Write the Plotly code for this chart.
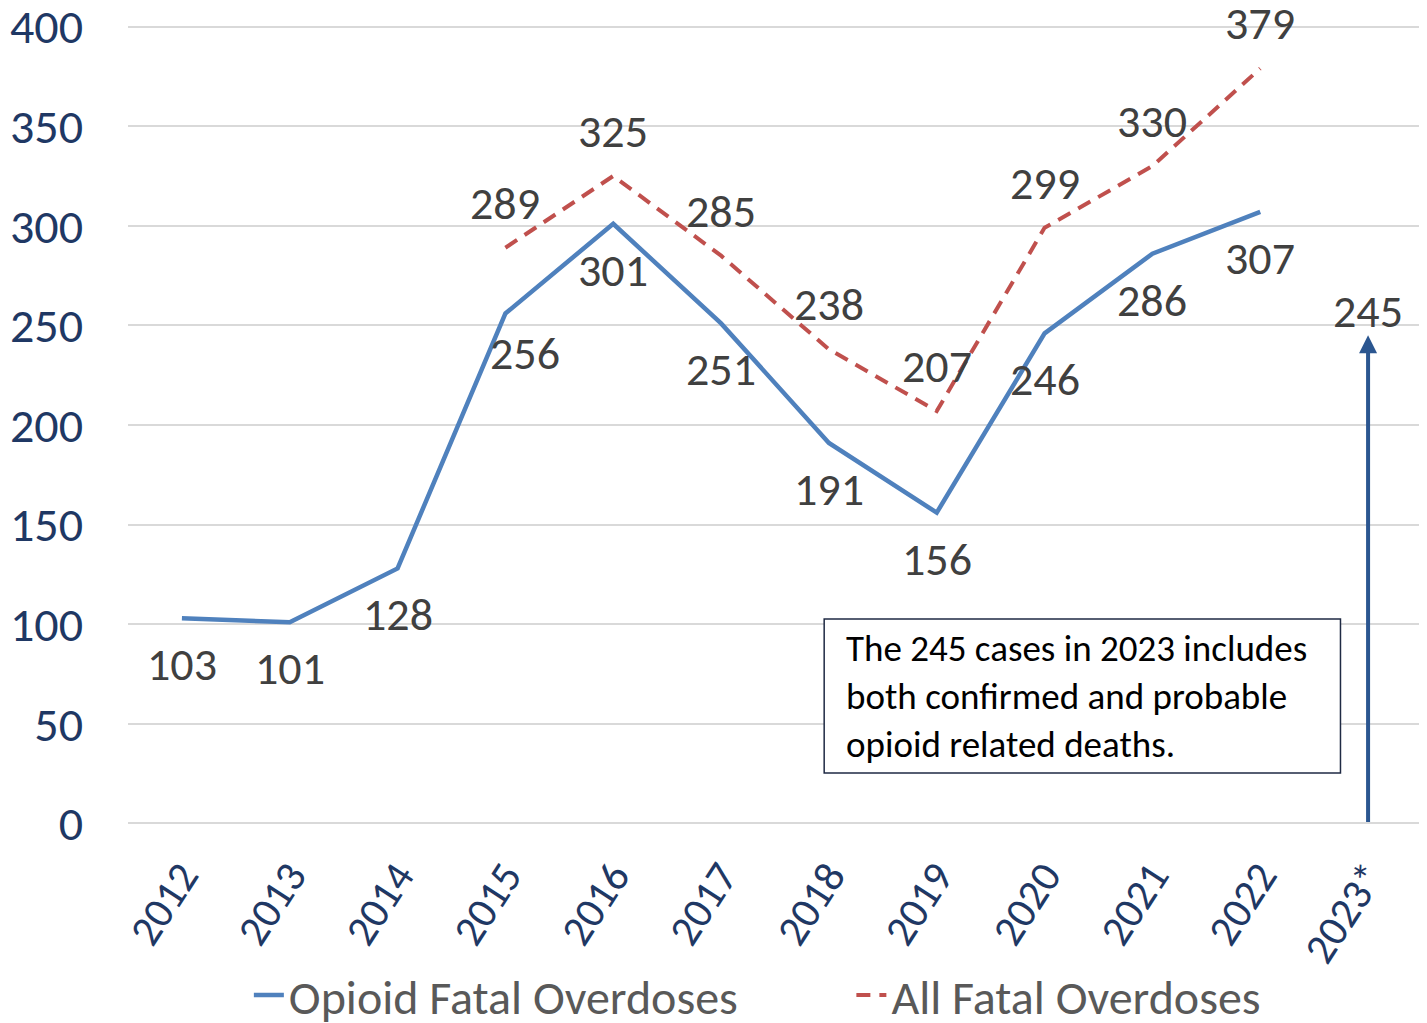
import plotly.graph_objects as go

years = ["2012", "2013", "2014", "2015", "2016", "2017", "2018", "2019",
         "2020", "2021", "2022", "2023*"]
opioid_years = years[:11]
opioid = [103, 101, 128, 256, 301, 251, 191, 156, 246, 286, 307]
all_years = years[3:11]
all_od = [289, 325, 285, 238, 207, 299, 330, 379]
y2023 = 245
note = "The 245 cases in 2023 includes<br>both confirmed and probable<br>opioid related deaths."

FONT = "Calibri, Carlito, Lato, sans-serif"
BLUE = "#4F81BD"
RED = "#C0504D"
NAVY = "#1F3864"
LABEL = "#404040"
NB = "\u00a0"

fig = go.Figure()
fig.add_trace(go.Scatter(x=opioid_years, y=opioid, mode="lines",
                         name="Opioid Fatal Overdoses" + NB * 10,
                         line=dict(color=BLUE, width=4.5)))
fig.add_trace(go.Scatter(x=all_years, y=all_od, mode="lines",
                         name="All Fatal Overdoses",
                         line=dict(color=RED, width=4, dash="14px,9px")))

# data labels (category index used as x, numeric-looking strings confuse annotations)
for x, v in zip(opioid_years, opioid):
    i = years.index(x)
    fig.add_annotation(x=i, y=v, text=str(v), showarrow=False,
                       yshift=-40 if x == "2015" else -46,
                       xshift=20 if x == "2015" else 0,
                       font=dict(size=46, color=LABEL, family=FONT))
for x, v in zip(all_years, all_od):
    i = years.index(x)
    fig.add_annotation(x=i, y=v, text=str(v), showarrow=False, yshift=45,
                       font=dict(size=46, color=LABEL, family=FONT))

# 2023 arrow
fig.add_annotation(x=11, y=y2023, ax=11, ay=0, xref="x", yref="y",
                   axref="x", ayref="y", text="", showarrow=True,
                   arrowhead=2, arrowsize=0.9, arrowwidth=4, arrowcolor="#2B5690")
fig.add_annotation(x=11, y=y2023, text=str(y2023), showarrow=False,
                   yshift=24, font=dict(size=46, color=LABEL, family=FONT))

# note box
fig.add_shape(type="rect", xref="paper", yref="paper",
              x0=0.538, x1=0.937, y0=0.065, y1=0.2575,
              line=dict(color="#1F2A44", width=1.5), fillcolor="white")
fig.add_annotation(xref="paper", yref="paper", x=0.5535, y=0.2515,
                   xanchor="left", yanchor="top", align="left",
                   text=note, showarrow=False,
                   font=dict(size=37, color="#000000", family=FONT))

fig.update_xaxes(type="category", categoryorder="array", categoryarray=years,
                 range=[-0.5, 11.5], tickangle=-57, showgrid=False,
                 showline=False, ticks="", automargin=False,
                 ticklabelstandoff=16,
                 tickfont=dict(size=43, color=NAVY, family=FONT))
fig.update_yaxes(range=[-0.8, 400.8], tickvals=list(range(0, 401, 50)),
                 showgrid=True, gridcolor="#D9D9D9",
                 gridwidth=2, zeroline=False, showline=False, ticks="",
                 ticklabelstandoff=44, automargin=False,
                 ticklabeloverflow="allow",
                 tickfont=dict(size=48, color=NAVY, family=FONT))

# page body has an 8px margin, so the figure is offset by that amount
fig.update_layout(
    width=1419, height=1015,
    margin=dict(l=120, r=5, t=17, b=198, autoexpand=False),
    plot_bgcolor="white", paper_bgcolor="white",
    showlegend=True,
    legend=dict(orientation="h", x=0.0934, xanchor="left", y=-0.213,
                yanchor="middle", bgcolor="rgba(0,0,0,0)",
                font=dict(size=48, color="#595959", family=FONT)),
)

fig.write_html("out.html")
